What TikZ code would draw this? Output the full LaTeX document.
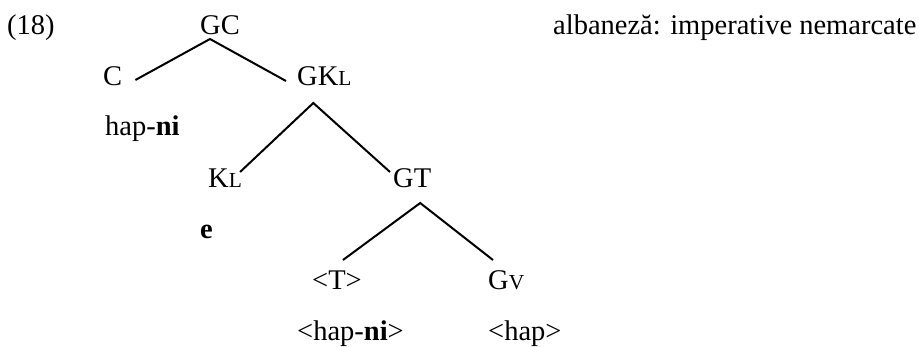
\documentclass[tikz,border=0pt]{standalone}
\usepackage{fontspec}
\setmainfont{Liberation Serif}
\newcommand{\smc}[1]{{\fontsize{21.4}{21.4}\selectfont #1}}
\tikzset{
  lbl/.style={anchor=base west, inner sep=0pt, font=\fontsize{28.5}{34}\selectfont},
  branch/.style={line width=2pt, black}
}
\begin{document}
\begin{tikzpicture}[x=1pt,y=-1pt]
		\useasboundingbox (0,0) rectangle (919,346);
		
		% labels
		\node[lbl] (num) at (7,34) {(18)};
		\node[lbl] (title) at (553,34) {albaneză: imperative nemarcate};
		
		% tree nodes
		\node[lbl] (gc) at (200,34) {GC};
		\node[lbl] (c) at (103,85) {C};
		\node[lbl] (gkl) at (297,85) {GK\smc{L}};
		\node[lbl] (hapni) at (105,135) {hap-\textbf{ni}};
		\node[lbl] (kl) at (208,187) {K\smc{L}};
		\node[lbl] (gt) at (393,187) {GT};
		\node[lbl] (e) at (200,238) {\textbf{e}};
		\node[lbl] (t) at (312,289) {<T>};
		\node[lbl] (gv) at (488,289) {G\smc{V}};
		\node[lbl] (thapni) at (297,340) {<hap-\textbf{ni}>};
		\node[lbl] (thap) at (488,340) {<hap>};
		
		% branches
		\draw[branch] ([xshift=13pt,yshift=5pt]c.base east) -- ([xshift=-10pt,yshift=-5pt]gc.base)
		-- ([xshift=-11pt,yshift=4pt]gkl.base west);
		\draw[branch] ([xshift=-2pt,yshift=15pt]kl.base east) -- ([xshift=-11pt,yshift=-18pt]gkl.base)
		-- ([xshift=-3pt,yshift=15pt]gt.base west);
		\draw[branch] ([xshift=6pt,yshift=29pt]t.base) -- ([xshift=8pt,yshift=-16pt]gt.base)
		-- ([xshift=5pt,yshift=29pt]gv.base west);
	\end{tikzpicture}
\end{document}
